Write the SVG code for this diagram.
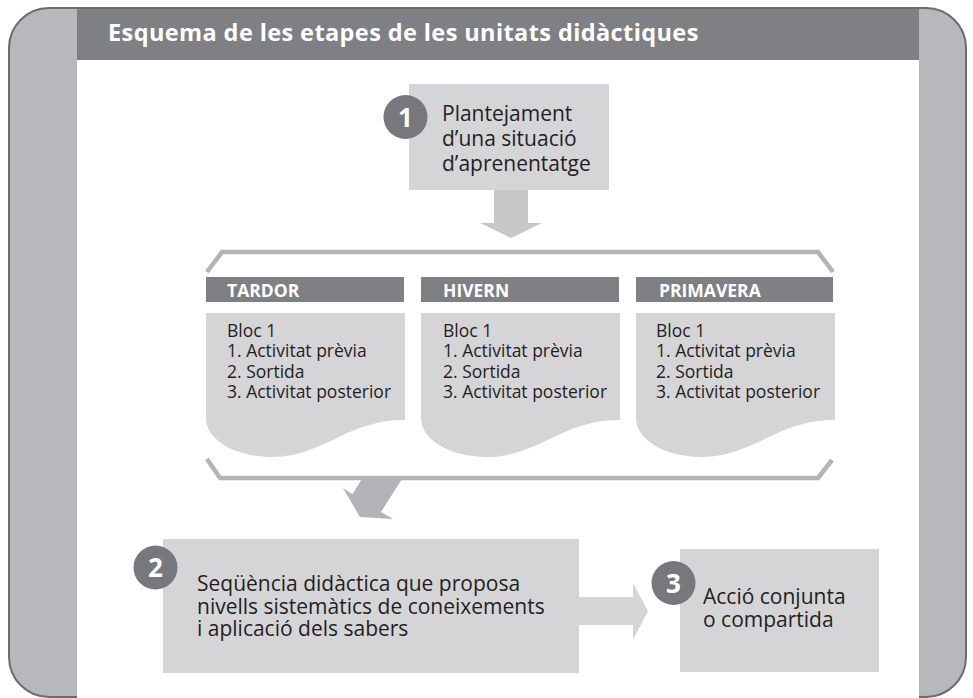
<svg xmlns="http://www.w3.org/2000/svg" width="973" height="698" viewBox="0 0 973 698">
<style>
.t{font-family:"Open Sans","Noto Sans","Liberation Sans",sans-serif;fill:#231f20}
.b{font-family:"Open Sans","Noto Sans","Liberation Sans",sans-serif;font-weight:bold;fill:#ffffff}
.box{fill:#d5d5d7}
.hdr{fill:#7e8084}
.num{fill:#77787c}
.brk{fill:none;stroke:#b3b4b7;stroke-width:4.5;stroke-linejoin:miter}
</style>
<g id="frame">
<rect x="9" y="8" width="957" height="689" rx="40" ry="40" fill="#b7b8bc" stroke="#6b6c70" stroke-width="2"/>
<rect x="77" y="9" width="842" height="51" fill="#7e8084"/>
<rect x="77" y="60" width="842" height="638" fill="#ffffff"/>
<text class="b" x="108" y="41" font-size="23.5" letter-spacing="0.4">Esquema de les etapes de les unitats didàctiques</text>
</g>
<g id="connectors">
<polygon points="494,190 528,190 528,223 542,223 511,238 480,223 494,223" fill="#c6c7c9"/>
<path class="brk" d="M207,272 L222,252 L818,252 L833,272"/>
<path class="brk" d="M207,459 L220,478 L818,478 L832,460"/>
<polygon points="362,479 402,479 381,512 393,519 360,517 343,488 352.5,494" fill="#b3b4b7"/>
<polygon points="579,597 633,597 633,583 648,611 633,640 633,625 579,625" fill="#d5d5d7"/>
</g>
<g id="node1">
<rect class="box" x="409" y="84" width="200" height="106"/>
<circle class="num" cx="405.5" cy="117" r="22"/>
<text class="b" x="405.5" y="126.5" font-size="26" text-anchor="middle">1</text>
<text class="t" font-size="21"><tspan x="442" y="121">Plantejament</tspan><tspan x="442" y="146">d’una situació</tspan><tspan x="442" y="171">d’aprenentatge</tspan></text>
</g>
<g id="tardor">
<rect class="hdr" x="206" y="277" width="198" height="25"/>
<text class="b" x="227" y="297" font-size="17.5">TARDOR</text>
<path class="box" d="M206,313 h199 v107 c-25,0 -42,6 -62,15 c-25,12 -45,22 -70,22 c-38,0 -67,-17 -67,-39 z"/>
<text class="t" font-size="17.5"><tspan x="227" y="337">Bloc 1</tspan><tspan x="227" y="357">1. Activitat prèvia</tspan><tspan x="227" y="378">2. Sortida</tspan><tspan x="227" y="398">3. Activitat posterior</tspan></text>
</g>
<g id="hivern">
<rect class="hdr" x="421" y="277" width="198" height="25"/>
<text class="b" x="443" y="297" font-size="17.5">HIVERN</text>
<path class="box" d="M421,313 h199 v107 c-25,0 -42,6 -62,15 c-25,12 -45,22 -70,22 c-38,0 -67,-17 -67,-39 z"/>
<text class="t" font-size="17.5"><tspan x="443" y="337">Bloc 1</tspan><tspan x="443" y="357">1. Activitat prèvia</tspan><tspan x="443" y="378">2. Sortida</tspan><tspan x="443" y="398">3. Activitat posterior</tspan></text>
</g>
<g id="primavera">
<rect class="hdr" x="636" y="277" width="197" height="25"/>
<text class="b" x="659" y="297" font-size="17.5">PRIMAVERA</text>
<path class="box" d="M636,313 h199 v107 c-25,0 -42,6 -62,15 c-25,12 -45,22 -70,22 c-38,0 -67,-17 -67,-39 z"/>
<text class="t" font-size="17.5"><tspan x="656" y="337">Bloc 1</tspan><tspan x="656" y="357">1. Activitat prèvia</tspan><tspan x="656" y="378">2. Sortida</tspan><tspan x="656" y="398">3. Activitat posterior</tspan></text>
</g>
<g id="node2">
<rect class="box" x="163" y="539" width="416" height="134"/>
<circle class="num" cx="155.5" cy="567.5" r="22"/>
<text class="b" x="155.5" y="577" font-size="26" text-anchor="middle">2</text>
<text class="t" font-size="21"><tspan x="197" y="591">Seqüència didàctica que proposa</tspan><tspan x="197" y="613.5">nivells sistemàtics de coneixements</tspan><tspan x="197" y="636">i aplicació dels sabers</tspan></text>
</g>
<g id="node3">
<rect class="box" x="680" y="549" width="199" height="123"/>
<circle class="num" cx="673.5" cy="583" r="22"/>
<text class="b" x="673.5" y="592.5" font-size="26" text-anchor="middle">3</text>
<text class="t" font-size="21"><tspan x="703" y="604">Acció conjunta</tspan><tspan x="703" y="627">o compartida</tspan></text>
</g>
</svg>
